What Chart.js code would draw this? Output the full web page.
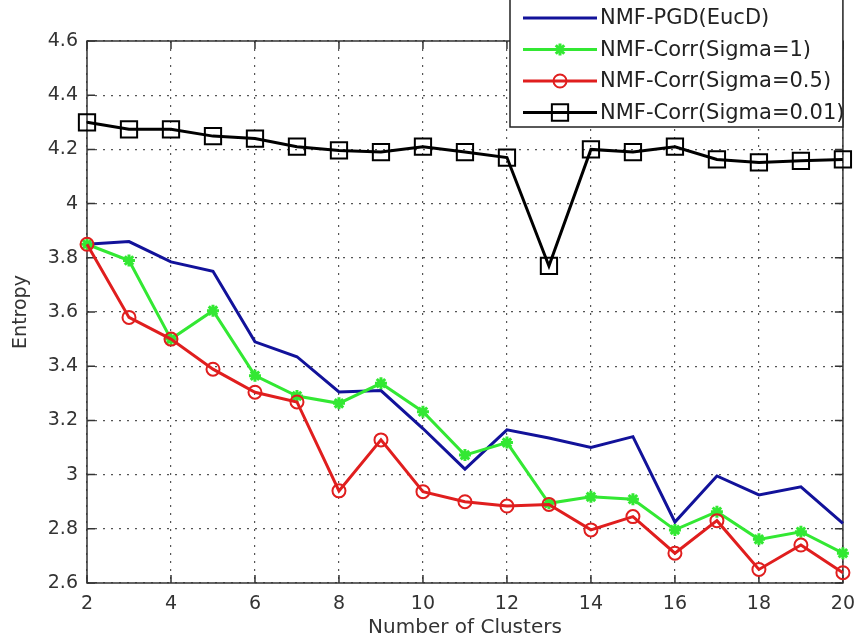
<!DOCTYPE html>
<html>
<head>
<meta charset="utf-8">
<script src="https://cdn.jsdelivr.net/npm/chart.js@4.4.0/dist/chart.umd.min.js"></script>
<style>
  html, body { margin: 0; padding: 0; background: #fff; }
  #wrap { width: 865px; height: 642px; }
</style>
</head>
<body>
<div id="wrap"><canvas id="grafico" width="865" height="642"></canvas></div>
<script>
// dados
const clusters = [2, 3, 4, 5, 6, 7, 8, 9, 10, 11, 12, 13, 14, 15, 16, 17, 18, 19, 20];
const pgdEucD = [3.85, 3.86, 3.785, 3.75, 3.49, 3.435, 3.305, 3.31, 3.17, 3.02, 3.165, 3.135, 3.10, 3.14, 2.825, 2.995, 2.925, 2.955, 2.82];
const corrSigma1 = [3.85, 3.79, 3.50, 3.605, 3.365, 3.29, 3.263, 3.337, 3.232, 3.072, 3.118, 2.894, 2.918, 2.909, 2.796, 2.863, 2.761, 2.789, 2.71];
const corrSigma05 = [3.85, 3.58, 3.50, 3.389, 3.304, 3.268, 2.94, 3.128, 2.937, 2.90, 2.884, 2.89, 2.796, 2.845, 2.71, 2.83, 2.65, 2.74, 2.638];
const corrSigma001 = [4.30, 4.274, 4.274, 4.249, 4.24, 4.21, 4.196, 4.19, 4.21, 4.19, 4.17, 3.77, 4.20, 4.19, 4.21, 4.163, 4.152, 4.158, 4.163];

const seriesNames = ['NMF-PGD(EucD)', 'NMF-Corr(Sigma=1)', 'NMF-Corr(Sigma=0.5)', 'NMF-Corr(Sigma=0.01)'];
const xTicks = [2, 4, 6, 8, 10, 12, 14, 16, 18, 20];
const yTicks = [2.6, 2.8, 3.0, 3.2, 3.4, 3.6, 3.8, 4.0, 4.2, 4.4, 4.6];
const yTickLabels = ['2.6', '2.8', '3', '3.2', '3.4', '3.6', '3.8', '4', '4.2', '4.4', '4.6'];

const pontos = vals => clusters.map((c, i) => ({ x: c, y: vals[i] }));
const FONTE = 'DejaVu Sans';

// moldura estilo MATLAB com ticks para dentro
const moldura = {
  id: 'moldura',
  beforeDatasetsDraw(chart) {
    const { ctx, chartArea: a, scales: { x, y } } = chart;
    ctx.save();
    ctx.strokeStyle = '#333';
    ctx.lineWidth = 1.5;
    ctx.strokeRect(a.left, a.top, a.right - a.left, a.bottom - a.top);
    ctx.beginPath();
    xTicks.forEach(v => {
      const px = x.getPixelForValue(v);
      ctx.moveTo(px, a.bottom); ctx.lineTo(px, a.bottom - 8);
      ctx.moveTo(px, a.top); ctx.lineTo(px, a.top + 8);
    });
    yTicks.forEach(v => {
      const py = y.getPixelForValue(v);
      ctx.moveTo(a.left, py); ctx.lineTo(a.left + 8, py);
      ctx.moveTo(a.right, py); ctx.lineTo(a.right - 8, py);
    });
    ctx.stroke();
    ctx.restore();
  }
};

// legenda dentro do gráfico, canto superior direito
const legenda = {
  id: 'legenda',
  afterDraw(chart) {
    const { ctx, chartArea: a } = chart;
    const bx = 510, by = -3, bw = a.right - bx, bh = 130;
    ctx.save();
    ctx.fillStyle = '#fff';
    ctx.fillRect(bx, by, bw, bh);
    ctx.strokeStyle = '#222';
    ctx.lineWidth = 1.5;
    ctx.strokeRect(bx, by, bw, bh);
    chart.data.datasets.forEach((ds, i) => {
      const cy = 18 + i * 31.5;
      ctx.strokeStyle = ds.borderColor;
      ctx.lineWidth = ds.borderWidth;
      ctx.beginPath();
      ctx.moveTo(523, cy); ctx.lineTo(597, cy);
      ctx.stroke();
      if (ds.pointRadius > 0) {
        ctx.fillStyle = ds.pointBackgroundColor;
        ctx.lineWidth = ds.pointBorderWidth;
        Chart.helpers.drawPoint(ctx, {
          pointStyle: ds.pointStyle, rotation: 0,
          radius: ds.pointRadius, borderWidth: ds.pointBorderWidth
        }, 560, cy);
      }
      ctx.fillStyle = '#222';
      ctx.font = '21px "' + FONTE + '"';
      ctx.textBaseline = 'middle';
      ctx.fillText(ds.label, 600, cy + 1);
    });
    ctx.restore();
  }
};

const ctx = document.getElementById('grafico').getContext('2d');
new Chart(ctx, {
  type: 'line',
  data: {
    datasets: [
      { label: seriesNames[0], data: pontos(pgdEucD), borderColor: '#12129a', borderWidth: 3,
        pointRadius: 0, order: 4 },
      { label: seriesNames[1], data: pontos(corrSigma1), borderColor: '#33e833', borderWidth: 3,
        pointStyle: 'star', pointRadius: 6, pointBorderWidth: 3, pointBackgroundColor: '#33e833', order: 3 },
      { label: seriesNames[2], data: pontos(corrSigma05), borderColor: '#e01e1e', borderWidth: 3,
        pointStyle: 'circle', pointRadius: 6.5, pointBorderWidth: 2, pointBackgroundColor: 'rgba(0,0,0,0)', order: 2 },
      { label: seriesNames[3], data: pontos(corrSigma001), borderColor: '#000', borderWidth: 3,
        pointStyle: 'rect', pointRadius: 11.5, pointBorderWidth: 2, pointBackgroundColor: 'rgba(0,0,0,0)', order: 1 }
    ].map(d => Object.assign({ tension: 0, clip: false, pointBorderColor: d.borderColor, fill: false }, d))
  },
  options: {
    responsive: false,
    animation: false,
    devicePixelRatio: 1,
    layout: { padding: { top: 41, right: 13, bottom: 0, left: 0 } },
    plugins: { legend: { display: false }, tooltip: { enabled: false } },
    scales: {
      x: {
        type: 'linear', min: 2, max: 20,
        afterBuildTicks: s => { s.ticks = xTicks.map(v => ({ value: v })); },
        afterFit: s => { s.height = 59; },
        ticks: { color: '#333', padding: 10, font: { family: FONTE, size: 19 }, maxRotation: 0 },
        grid: { color: '#555', lineWidth: 1.2, borderDash: [2, 6], drawTicks: false },
        border: { display: false, dash: [2, 6] },
        title: { display: true, text: 'Number of Clusters', color: '#333',
                 font: { family: FONTE, size: 20 }, padding: { top: 0, bottom: 2 } }
      },
      y: {
        type: 'linear', min: 2.6, max: 4.6,
        afterBuildTicks: s => { s.ticks = yTicks.map(v => ({ value: v })); },
        afterFit: s => { s.width = 87; },
        ticks: { color: '#333', padding: 9, font: { family: FONTE, size: 19 },
                 callback: (v, i) => yTickLabels[i] },
        grid: { color: '#555', lineWidth: 1.2, borderDash: [2, 6], drawTicks: false },
        border: { display: false, dash: [2, 6] },
        title: { display: true, text: 'Entropy', color: '#333',
                 font: { family: FONTE, size: 19 }, padding: { top: 10, bottom: 0 } }
      }
    }
  },
  plugins: [moldura, legenda]
});
</script>
</body>
</html>
